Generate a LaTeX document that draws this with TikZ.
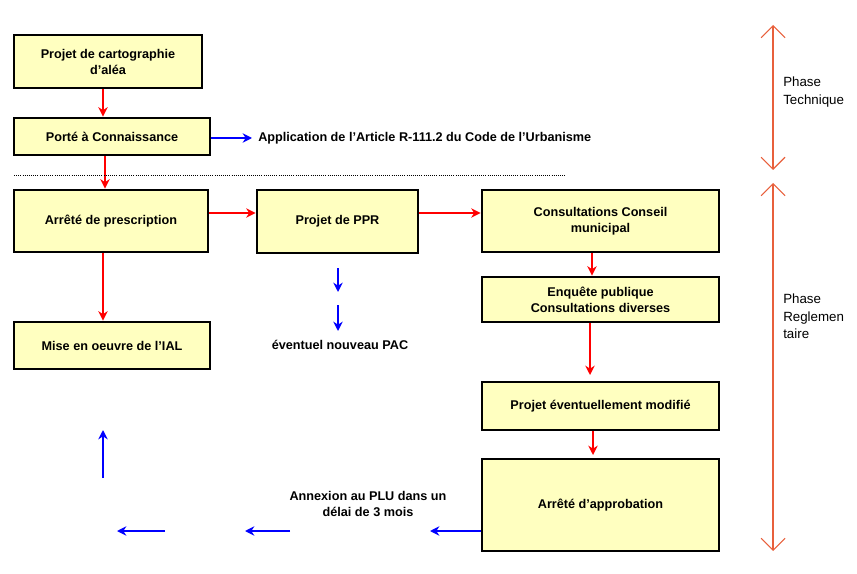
\documentclass[tikz,border=0pt]{standalone}
\usepackage{fontspec}
\setmainfont{Liberation Sans}
\usetikzlibrary{arrows.meta}
\definecolor{boxfill}{HTML}{FFFFC0}
\definecolor{phase}{HTML}{E8603C}
\begin{document}
\begin{tikzpicture}[x=0.75pt,y=-0.75pt,
  box/.style={draw=black,line width=2.2pt,fill=boxfill,font=\bfseries\fontsize{9.5}{12}\selectfont,align=center,inner sep=0pt},
  txt/.style={font=\bfseries\fontsize{9.5}{12}\selectfont,align=center,inner sep=0pt},
  ptxt/.style={font=\fontsize{10}{13}\selectfont,align=left,inner sep=0pt,anchor=north west},
  ra/.style={draw=red,line width=1.6pt,-{Stealth[length=7pt,width=7pt]}},
  ba/.style={draw=blue,line width=1.6pt,-{Stealth[length=7pt,width=7pt]}},
  pa/.style={draw=phase,line width=0.8pt,{Straight Barb[length=9pt,width=18pt]}-{Straight Barb[length=9pt,width=18pt]}}]
\useasboundingbox (0,0) rectangle (857,574);
\node[box,minimum width=141pt,minimum height=39.75pt] (b1) at (108,61.5) {Projet de cartographie\\d'aléa};
\node[box,minimum width=147pt,minimum height=27.75pt] (b2) at (112,136.5) {Porté à Connaissance};
\node[box,minimum width=145.5pt,minimum height=46.5pt] (b3) at (111,221) {Arrêté de prescription};
\node[box,minimum width=120.75pt,minimum height=47.25pt] (b4) at (337.5,221.5) {Projet de PPR};
\node[box,minimum width=177.75pt,minimum height=46.5pt] (b5) at (600.5,221) {Consultations Conseil\\municipal};
\node[box,minimum width=177.75pt,minimum height=33.75pt] (b6) at (600.5,299.5) {Enquête publique\\Consultations diverses};
\node[box,minimum width=177.75pt,minimum height=36pt] (b7) at (600.5,406) {Projet éventuellement modifié};
\node[box,minimum width=177.75pt,minimum height=69pt] (b8) at (600.5,505) {Arrêté d'approbation};
\node[box,minimum width=147pt,minimum height=35.25pt] (b9) at (112,345.5) {Mise en oeuvre de l'IAL};
\node[txt,anchor=west] (t1) at (258,138) {Application de l'Article R-111.2 du Code de l'Urbanisme};
\node[txt] (t2) at (340,345) {éventuel nouveau PAC};
\node[txt] (t3) at (368,504) {Annexion au PLU dans un\\délai de 3 mois};
\node[ptxt] (p1) at (783,77) {Phase\\Technique};
\node[ptxt] (p2) at (783,294) {Phase\\Reglemen\\taire};
\draw[ra] (b1.south -| 103,0) -- (b2.north -| 103,0);
\draw[ra] (b2.south -| 105,0) -- (b3.north -| 105,0);
\draw[ra] (b3.south -| 103,0) -- (b9.north -| 103,0);
\draw[ra] (b3.east |- 0,213) -- (b4.west |- 0,213);
\draw[ra] (b4.east |- 0,213) -- (b5.west |- 0,213);
\draw[ra] (b5.south -| 592,0) -- (b6.north -| 592,0);
\draw[ra] (b6.south -| 590,0) -- (590,375);
\draw[ra] (b7.south -| 593,0) -- (593,455);
\draw[ba] (b2.east |- 0,138) -- (252,138);
\coordinate (d1) at (338,268); \coordinate (d2) at (338,292);
\coordinate (d3) at (338,305); \coordinate (d4) at (338,331);
\draw[ba] (d1) -- (d2); \draw[ba] (d3) -- (d4);
\draw[ba] (b8.west |- 0,531) -- (430,531);
\coordinate (l1) at (290,531); \coordinate (l2) at (245,531);
\coordinate (l3) at (165,531); \coordinate (l4) at (117,531);
\draw[ba] (l1) -- (l2); \draw[ba] (l3) -- (l4);
\coordinate (u1) at (103,478); \coordinate (u2) at (103,430);
\draw[ba] (u1) -- (u2);
\draw[densely dotted,line width=0.6pt] (14,175) -- (565,175);
\coordinate (a1) at (773,25); \coordinate (a2) at (773,170);
\coordinate (a3) at (773,183); \coordinate (a4) at (773,551);
\draw[pa] (a1) -- (a2); \draw[pa] (a3) -- (a4);
\end{tikzpicture}
\end{document}
